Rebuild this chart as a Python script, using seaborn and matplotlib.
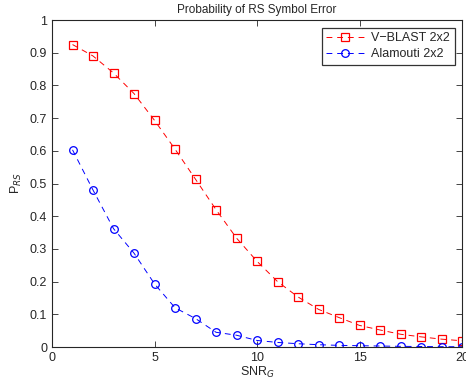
import numpy as np
import pandas as pd
import matplotlib
matplotlib.use("Agg")
import matplotlib.pyplot as plt
import seaborn as sns

# data
snr = list(range(1, 21))
vblast = [0.925, 0.89, 0.838, 0.775, 0.693, 0.605, 0.513, 0.42, 0.333, 0.262,
          0.2, 0.153, 0.115, 0.09, 0.066, 0.052, 0.039, 0.031, 0.024, 0.019]
alamouti = [0.603, 0.48, 0.362, 0.287, 0.193, 0.12, 0.087, 0.045, 0.036, 0.02,
            0.014, 0.01, 0.007, 0.005, 0.004, 0.003, 0.002, 0.0015, 0.001, 0.0008]

df = pd.DataFrame({"SNR": snr * 2,
                   "P": vblast + alamouti,
                   "Scheme": ["V\u2212BLAST 2x2"] * 20 + ["Alamouti 2x2"] * 20})

sns.set_style("ticks")
plt.rcParams["font.family"] = ["Liberation Sans", "DejaVu Sans"]

fig = plt.figure(figsize=(4.66, 3.85), dpi=100)
ax = fig.add_axes([0.1116, 0.0987, 0.88, 0.8493])

sns.lineplot(data=df, x="SNR", y="P", hue="Scheme", style="Scheme",
             palette=["red", "blue"], markers=["s", "o"], dashes=[(6, 5), (6, 5)],
             markersize=5.5, markerfacecolor="none", markeredgewidth=0.9,
             linewidth=0.7, ax=ax)
for line in ax.lines:
    line.set_markeredgecolor(line.get_color())

ax.set_xlim(0, 20)
ax.set_ylim(0, 1)
ax.set_xticks([0, 5, 10, 15, 20])
ax.set_yticks(np.arange(0, 1.01, 0.1))
ax.set_yticklabels(["0", "0.1", "0.2", "0.3", "0.4", "0.5", "0.6", "0.7", "0.8", "0.9", "1"])
ax.tick_params(direction="in", top=True, right=True, labelsize=9, length=4, width=0.6)
for s in ax.spines.values():
    s.set_visible(True)
    s.set_linewidth(0.8)

ax.set_title("Probability of RS Symbol Error", fontsize=8.5, pad=5)
ax.set_xlabel("SNR$_G$", fontsize=9, labelpad=1)
ax.set_ylabel("P$_{RS}$", fontsize=9, labelpad=4)

leg = ax.legend(loc="upper right", fontsize=9, frameon=True, fancybox=False,
                edgecolor="black", handlelength=3.0, borderaxespad=0.6,
                borderpad=0.35, labelspacing=0.35, handletextpad=0.6)
leg.get_frame().set_linewidth(0.9)
for h in leg.get_lines():
    h.set_markerfacecolor("none")
    h.set_markeredgecolor(h.get_color())

fig.savefig("out.png", dpi=100)
